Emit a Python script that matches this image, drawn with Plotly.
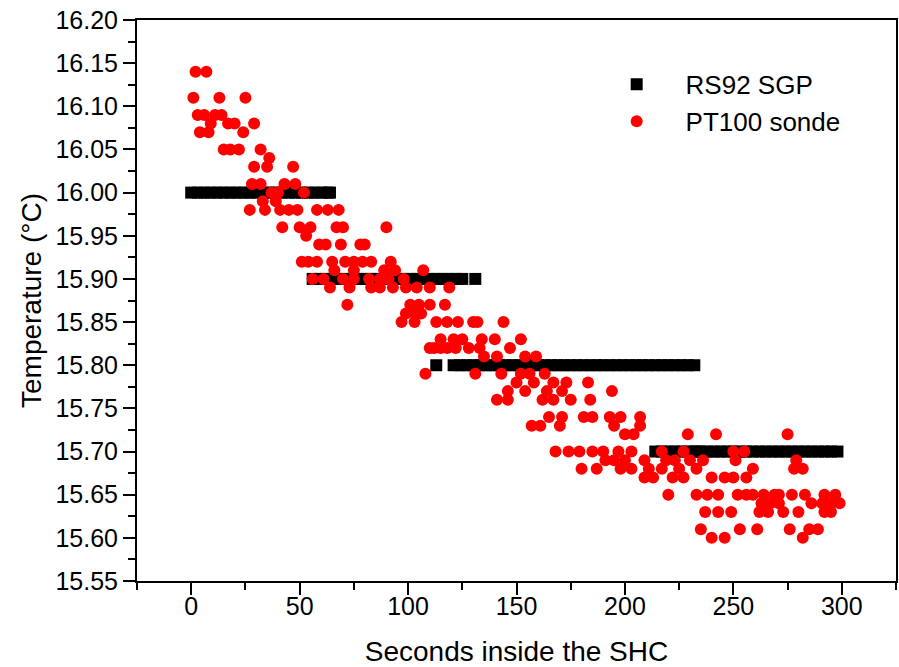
import plotly.graph_objects as go

# RS92 SGP readings (0.1 degC resolution)
rs92_time = [
    0, 3, 6, 9, 12, 15, 18, 21, 24, 27, 30, 33, 36, 39, 42, 45, 48, 51, 54, 57, 60, 63, 64,
    56, 59, 62, 65, 68, 71, 74, 77, 80, 83, 86, 89, 92, 95, 98, 101, 104, 107, 110, 113,
    116, 119, 122, 125, 131,
    113, 121, 124, 127, 130, 133, 136, 139, 142, 145, 148, 151, 154, 157, 160, 163, 166,
    169, 172, 175, 178, 181, 184, 187, 190, 193, 196, 199, 202, 205, 208, 211, 214, 217,
    220, 223, 226, 229, 232, 233,
    214, 217, 220, 223, 226, 229, 232, 235, 238, 241, 244, 247, 250, 253, 256, 259, 262,
    265, 268, 271, 274, 277, 280, 283, 286, 289, 292, 295, 298, 299,
]
rs92_temp = (
    [16.00] * 23
    + [15.90] * 25
    + [15.80] * 39
    + [15.70] * 30
)

# PT100 sonde readings, grouped by level
pt100_time = [
    2, 7,
    1, 13, 25,
    3, 6, 11, 14,
    9, 17, 20, 29,
    4, 8, 24,
    15, 18, 22, 32,
    36,
    29, 35, 47,
    28, 32, 43, 48,
    37, 40, 52,
    33, 39,
    27, 34, 41, 45, 49, 58, 63, 68,
    42, 50, 55, 67, 70, 90,
    53,
    59, 62, 69, 78, 80,
    51, 54, 58, 65, 71, 75, 79, 83, 92,
    66, 75, 89, 94, 107,
    56, 61, 70, 75, 82, 87, 91, 98,
    64, 73, 83, 87, 93, 99, 104, 110, 119,
    72, 101, 105, 110, 117,
    99, 103, 106,
    97, 103, 113, 118, 123, 130, 132, 144,
    115, 121, 125, 134, 140, 152,
    110, 112, 115, 118, 122, 128, 133, 147,
    135, 141, 154, 159,
    108, 131, 143, 152, 156, 163,
    150, 158, 167, 173, 183,
    146, 154, 164, 171, 194,
    141, 146, 162, 167, 175, 184,
    165, 171, 181, 185, 193, 198, 207,
    157, 161, 170, 195, 207,
    200, 204, 229, 242, 275,
    168, 174, 179, 185, 190, 197, 203, 217, 227, 250, 255,
    191, 195, 200, 209, 219, 223, 230, 236, 251, 279,
    180, 187, 198, 203, 211, 217, 225, 233, 259, 278, 282,
    209, 213, 222, 227, 240, 246, 250, 256,
    220, 233, 238, 243, 252, 256, 259, 264, 269, 271, 277, 283, 292, 297,
    263, 267, 271, 286, 291, 295, 299,
    237, 243, 249, 262, 266, 273, 280, 292, 295,
    235, 253, 261, 276, 285, 289,
    240, 246, 282,
]
pt100_temp = [
    16.14, 16.14,
    16.11, 16.11, 16.11,
    16.09, 16.09, 16.09, 16.09,
    16.08, 16.08, 16.08, 16.08,
    16.07, 16.07, 16.07,
    16.05, 16.05, 16.05, 16.05,
    16.04,
    16.03, 16.03, 16.03,
    16.01, 16.01, 16.01, 16.01,
    16.00, 16.00, 16.00,
    15.99, 15.99,
    15.98, 15.98, 15.98, 15.98, 15.98, 15.98, 15.98, 15.98,
    15.96, 15.96, 15.96, 15.96, 15.96, 15.96,
    15.95,
    15.94, 15.94, 15.94, 15.94, 15.94,
    15.92, 15.92, 15.92, 15.92, 15.92, 15.92, 15.92, 15.92, 15.92,
    15.91, 15.91, 15.91, 15.91, 15.91,
    15.90, 15.90, 15.90, 15.90, 15.90, 15.90, 15.90, 15.90,
    15.89, 15.89, 15.89, 15.89, 15.89, 15.89, 15.89, 15.89, 15.89,
    15.87, 15.87, 15.87, 15.87, 15.87,
    15.86, 15.86, 15.86,
    15.85, 15.85, 15.85, 15.85, 15.85, 15.85, 15.85, 15.85,
    15.83, 15.83, 15.83, 15.83, 15.83, 15.83,
    15.82, 15.82, 15.82, 15.82, 15.82, 15.82, 15.82, 15.82,
    15.81, 15.81, 15.81, 15.81,
    15.79, 15.79, 15.79, 15.79, 15.79, 15.79,
    15.78, 15.78, 15.78, 15.78, 15.78,
    15.77, 15.77, 15.77, 15.77, 15.77,
    15.76, 15.76, 15.76, 15.76, 15.76, 15.76,
    15.74, 15.74, 15.74, 15.74, 15.74, 15.74, 15.74,
    15.73, 15.73, 15.73, 15.73, 15.73,
    15.72, 15.72, 15.72, 15.72, 15.72,
    15.70, 15.70, 15.70, 15.70, 15.70, 15.70, 15.70, 15.70, 15.70, 15.70, 15.70,
    15.69, 15.69, 15.69, 15.69, 15.69, 15.69, 15.69, 15.69, 15.69, 15.69,
    15.68, 15.68, 15.68, 15.68, 15.68, 15.68, 15.68, 15.68, 15.68, 15.68, 15.68,
    15.67, 15.67, 15.67, 15.67, 15.67, 15.67, 15.67, 15.67,
    15.65, 15.65, 15.65, 15.65, 15.65, 15.65, 15.65, 15.65, 15.65, 15.65, 15.65, 15.65, 15.65, 15.65,
    15.64, 15.64, 15.64, 15.64, 15.64, 15.64, 15.64,
    15.63, 15.63, 15.63, 15.63, 15.63, 15.63, 15.63, 15.63, 15.63,
    15.61, 15.61, 15.61, 15.61, 15.61, 15.61,
    15.60, 15.60, 15.60,
]

x_range = [-25, 325]
y_range = [15.55, 16.20]
font = 'Liberation Sans, Arial, sans-serif'
nb = '\u00a0' * 4  # wider gap between legend symbol and text

fig = go.Figure()
fig.add_trace(go.Scatter(
    x=rs92_time, y=rs92_temp, mode='markers', name=nb + 'RS92 SGP',
    marker=dict(symbol='square', size=12, color='black', line=dict(width=0)),
))
fig.add_trace(go.Scatter(
    x=pt100_time, y=pt100_temp, mode='markers', name=nb + 'PT100 sonde',
    marker=dict(symbol='circle', size=12, color='red', line=dict(width=0)),
))

common = dict(showgrid=False, zeroline=False, linecolor='black', linewidth=2,
              tickcolor='black', tickwidth=2, ticklen=12, automargin=False)

fig.update_layout(
    width=899, height=667,
    paper_bgcolor='white', plot_bgcolor='white',
    margin=dict(l=137, r=3, t=20, b=86),
    font=dict(family=font, color='black'),
    xaxis=dict(
        range=x_range, tick0=0, dtick=50, ticks='outside', showline=True, mirror=True,
        minor=dict(dtick=25, ticks='outside', ticklen=7, tickwidth=2, tickcolor='black'),
        tickfont=dict(size=25), ticklabelstandoff=-10,
        title=dict(text='Seconds inside the SHC', font=dict(size=28), standoff=24),
        **common),
    yaxis=dict(
        range=y_range, tick0=15.55, dtick=0.05, tickformat='.2f', ticks='outside',
        showline=True, mirror=True,
        minor=dict(dtick=0.025, ticks='outside', ticklen=7, tickwidth=2, tickcolor='black'),
        tickfont=dict(size=25),
        title=dict(text='Temperature (°C)', font=dict(size=28), standoff=6),
        **common),
    xaxis2=dict(
        range=x_range, overlaying='x', side='top', anchor='y', tick0=0, dtick=50,
        ticks='inside', showticklabels=False, showline=False,
        minor=dict(dtick=25, ticks='inside', ticklen=7, tickwidth=2, tickcolor='black'),
        **common),
    yaxis2=dict(
        range=y_range, overlaying='y', side='right', anchor='x', tick0=15.55, dtick=0.05,
        ticks='inside', showticklabels=False, showline=False,
        minor=dict(dtick=0.025, ticks='inside', ticklen=7, tickwidth=2, tickcolor='black'),
        **common),
    legend=dict(x=0.632, y=0.927, xanchor='left', yanchor='top',
                font=dict(size=26), bgcolor='rgba(0,0,0,0)', itemsizing='trace'),
)

fig.write_html("out.html", config={'displayModeBar': False},
               post_script="document.body.style.margin='0';document.body.style.overflow='hidden';")
